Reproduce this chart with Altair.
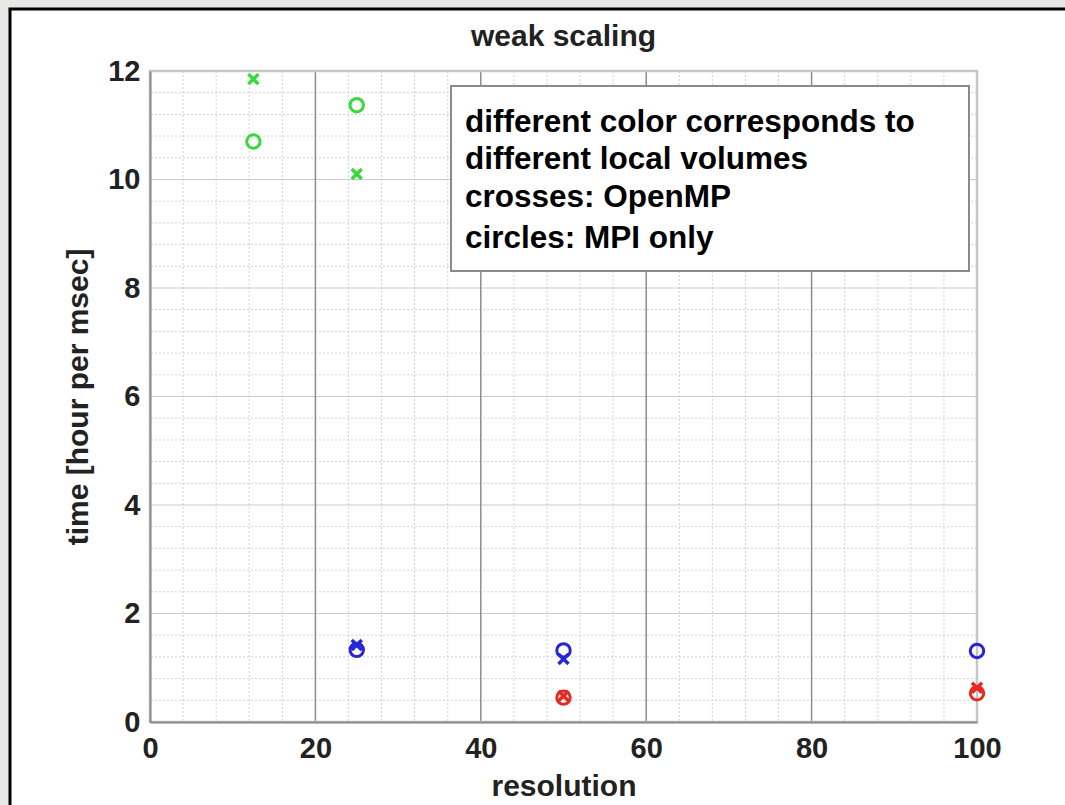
import altair as alt
import pandas as pd

# ---- data ----
res_green = [12.5, 12.5, 25, 25]
time_green = [11.85, 10.7, 10.1, 11.37]
kind_green = ["OpenMP", "MPI", "OpenMP", "MPI"]

res_blue = [25, 25, 50, 50, 100]
time_blue = [1.42, 1.33, 1.16, 1.32, 1.31]
kind_blue = ["OpenMP", "MPI", "OpenMP", "MPI", "MPI"]

res_red = [50, 50, 100, 100]
time_red = [0.48, 0.45, 0.63, 0.53]
kind_red = ["OpenMP", "MPI", "OpenMP", "MPI"]

x_major = [0, 20, 40, 60, 80, 100]
y_major = [0, 2, 4, 6, 8, 10, 12]
x_minor = [4, 8, 12, 16, 24, 28, 32, 36, 44, 48, 52, 56, 64, 68, 72, 76, 84, 88, 92, 96]
y_minor = [0.4, 0.8, 1.2, 1.6, 2.4, 2.8, 3.2, 3.6, 4.4, 4.8, 5.2, 5.6, 6.4, 6.8, 7.2, 7.6,
           8.4, 8.8, 9.2, 9.6, 10.4, 10.8, 11.2, 11.6]

note_lines = ["different color corresponds to", "different local volumes",
              "crosses: OpenMP", "circles: MPI only"]
note_y = [52, 89, 127, 168]

rows = []
for grp, xs_, ys_, ks in [("green", res_green, time_green, kind_green),
                          ("blue", res_blue, time_blue, kind_blue),
                          ("red", res_red, time_red, kind_red)]:
    for x, y, k in zip(xs_, ys_, ks):
        rows.append({"resolution": x, "time": y, "volume": grp, "kind": k})
df = pd.DataFrame(rows)

FONT = "Liberation Sans"
W, H = 827, 651

xs = alt.Scale(domain=[0, 100], nice=False, zero=False)
ys = alt.Scale(domain=[0, 12], nice=False, zero=False)
color_scale = alt.Scale(domain=["green", "blue", "red"],
                        range=["#3ad83a", "#2626d6", "#e52a24"])

common = dict(grid=False, labelFontSize=29, labelFontWeight="bold", labelFont=FONT,
              labelColor="#222", titleFont=FONT, titleFontSize=30, titleFontWeight="bold",
              titleColor="#222", tickSize=0, domainColor="#8a8a8a", domainWidth=2,
              format="d", zindex=2, labelFlush=False)
xaxis = alt.Axis(values=x_major, title="resolution", titlePadding=8, labelPadding=12,
                 **common)
yaxis = alt.Axis(values=y_major, title="time [hour per msec]", titlePadding=14,
                 labelPadding=10, **common)

# outer frame (decoration)
frame = alt.Chart(pd.DataFrame({"a": [0]})).mark_rect(
    fill="white", stroke="black", strokeWidth=3
).encode(x=alt.value(-140), x2=alt.value(930), y=alt.value(-62), y2=alt.value(760))

# grid
minor_x = alt.Chart(pd.DataFrame({"v": x_minor})).mark_rule(
    color="#d2d2d2", strokeDash=[2, 2], strokeWidth=1
).encode(x=alt.X("v:Q", scale=xs, axis=xaxis))
minor_y = alt.Chart(pd.DataFrame({"v": y_minor})).mark_rule(
    color="#d2d2d2", strokeDash=[2, 2], strokeWidth=1
).encode(y=alt.Y("v:Q", scale=ys, axis=yaxis))
major_y = alt.Chart(pd.DataFrame({"v": y_major[1:]})).mark_rule(
    color="#cbcbcb", strokeWidth=1
).encode(y=alt.Y("v:Q", scale=ys, axis=yaxis))
major_x = alt.Chart(pd.DataFrame({"v": x_major[1:-1]})).mark_rule(
    color="#8c8c8c", strokeWidth=1.5
).encode(x=alt.X("v:Q", scale=xs, axis=xaxis))

border = alt.Chart(pd.DataFrame({"a": [0]})).mark_rect(
    fill=None, stroke="#c6c6c6", strokeWidth=2.5
).encode(x=alt.value(0), x2=alt.value(W), y=alt.value(0), y2=alt.value(H))

circles = alt.Chart(df).transform_filter(alt.datum.kind == "MPI").mark_point(
    shape="circle", filled=False, size=180, strokeWidth=3, opacity=1
).encode(
    x=alt.X("resolution:Q", scale=xs, axis=xaxis),
    y=alt.Y("time:Q", scale=ys, axis=yaxis),
    color=alt.Color("volume:N", scale=color_scale, legend=None),
)
crosses = alt.Chart(df).transform_filter(alt.datum.kind == "OpenMP").mark_point(
    shape="M-1,-1L1,1M-1,1L1,-1", filled=False, size=100, strokeWidth=3.5, opacity=1
).encode(
    x=alt.X("resolution:Q", scale=xs, axis=xaxis),
    y=alt.Y("time:Q", scale=ys, axis=yaxis),
    color=alt.Color("volume:N", scale=color_scale, legend=None),
)

box = alt.Chart(pd.DataFrame({"a": [0]})).mark_rect(
    fill="white", stroke="#8a8a8a", strokeWidth=2
).encode(x=alt.value(301), x2=alt.value(819), y=alt.value(15), y2=alt.value(200))

notes = [
    alt.Chart(pd.DataFrame({"line": [t]})).mark_text(
        align="left", baseline="middle", font=FONT, fontSize=31.5, fontWeight="bold",
        color="black"
    ).encode(x=alt.value(315), y=alt.value(yy), text="line:N")
    for t, yy in zip(note_lines, note_y)
]

chart = alt.layer(
    frame, minor_x, minor_y, major_y, major_x, border, circles, crosses, box, *notes
).properties(
    width=W, height=H,
    title=alt.TitleParams("weak scaling", font=FONT, fontSize=30, fontWeight="bold",
                          color="#222", offset=0, dy=68, baseline="alphabetic",
                          anchor="middle", frame="group", zindex=2),
    background="#e7e7e5",
    padding={"left": 150, "top": 71, "right": 88, "bottom": 83},
    autosize=alt.AutoSizeParams(type="none"),
).configure_view(stroke=None)

chart.save("out.html", embed_options={"renderer": "svg", "actions": False})
